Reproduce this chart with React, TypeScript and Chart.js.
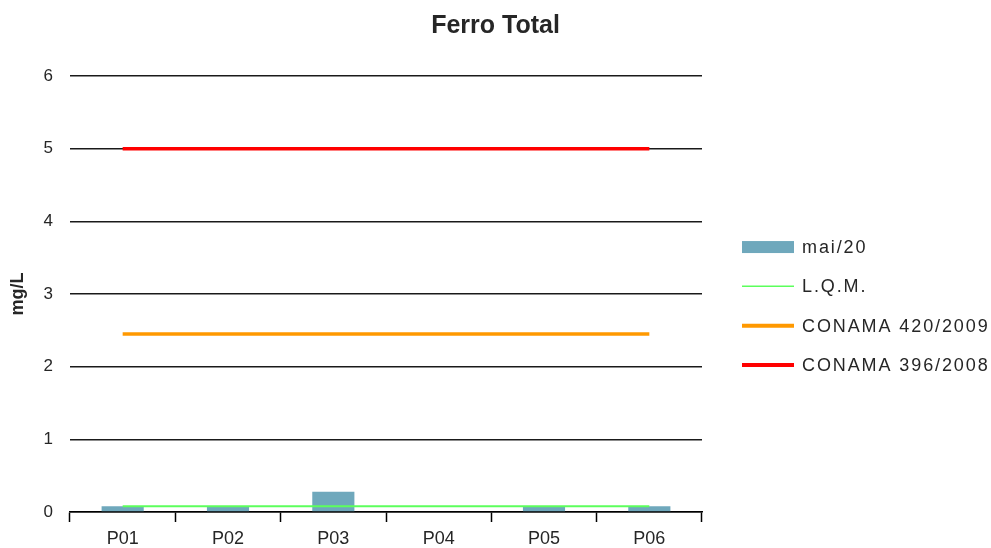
import React, { useEffect, useRef } from "react";
import { Chart, registerables } from "chart.js";

Chart.register(...registerables);

const categories = ["P01", "P02", "P03", "P04", "P05", "P06"];
const maiValues = [0.08, 0.08, 0.28, 0, 0.08, 0.08];
const lqmValues = [0.08, 0.08, 0.08, 0.08, 0.08, 0.08];
const conama420Values = [2.45, 2.45, 2.45, 2.45, 2.45, 2.45];
const conama396Values = [5, 5, 5, 5, 5, 5];
const yTicks = [0, 1, 2, 3, 4, 5, 6];

const FONT = "'Liberation Sans', Arial, sans-serif";
const TEXT = "#262626";

const legendPlugin = {
  id: "customLegend",
  afterDraw(chart: any) {
    const { ctx, chartArea } = chart;
    const x0 = chartArea.right + 40;
    const symW = 52;
    const step = 39.3;
    const center = (chartArea.top + chartArea.bottom) / 2 + 12;
    const startY = center - 1.5 * step;
    ctx.save();
    ctx.font = `18px ${FONT}`;
    ctx.textBaseline = "middle";
    ctx.textAlign = "left";
    chart.data.datasets.forEach((ds: any, i: number) => {
      const cy = startY + i * step;
      if (ds.type === "bar") {
        ctx.fillStyle = ds.backgroundColor;
        ctx.fillRect(x0, cy - 6, symW, 12);
      } else {
        ctx.strokeStyle = ds.borderColor;
        ctx.lineWidth = ds.legendWidth || ds.borderWidth;
        ctx.beginPath();
        ctx.moveTo(x0, cy);
        ctx.lineTo(x0 + symW, cy);
        ctx.stroke();
      }
      ctx.fillStyle = TEXT;
      try {
        (ctx as any).letterSpacing = "1.9px";
      } catch (e) {}
      ctx.fillText(ds.label, x0 + symW + 8, cy + 1);
      try {
        (ctx as any).letterSpacing = "0px";
      } catch (e) {}
    });
    ctx.restore();
  },
};

export default function App() {
  const ref = useRef<HTMLCanvasElement>(null);
  useEffect(() => {
    if (!ref.current) return;
    const chart = new Chart(ref.current, {
      type: "bar",
      data: {
        labels: categories,
        datasets: [
          {
            type: "bar",
            label: "mai/20",
            data: maiValues,
            backgroundColor: "#6FA8BC",
            borderWidth: 0,
            barPercentage: 0.4,
            categoryPercentage: 1,
            order: 1,
          } as any,
          {
            type: "line",
            label: "L.Q.M.",
            data: lqmValues,
            borderColor: "#5CFF5C",
            borderWidth: 2,
            legendWidth: 1.5,
            pointRadius: 0,
            fill: false,
            order: 0,
          },
          {
            type: "line",
            label: "CONAMA 420/2009",
            data: conama420Values,
            borderColor: "#FF9900",
            borderWidth: 3.5,
            legendWidth: 4,
            pointRadius: 0,
            fill: false,
            order: 0,
          },
          {
            type: "line",
            label: "CONAMA 396/2008",
            data: conama396Values,
            borderColor: "#FF0000",
            borderWidth: 3.5,
            legendWidth: 4,
            pointRadius: 0,
            fill: false,
            order: 0,
          },
        ],
      },
      options: {
        responsive: false,
        animation: false,
        layout: { padding: 0 },
        plugins: {
          legend: { display: false },
          tooltip: { enabled: false },
          title: {
            display: true,
            text: "Ferro Total",
            color: TEXT,
            font: { family: FONT, size: 25, weight: "bold" },
            padding: { top: 11, bottom: 35 },
          },
        },
        scales: {
          x: {
            offset: true,
            grid: {
              offset: true,
              drawOnChartArea: false,
              drawTicks: true,
              tickLength: 10,
              tickColor: "#000",
              tickWidth: 1.5,
            },
            border: { display: true, color: "#000", width: 1.5 },
            ticks: {
              color: TEXT,
              font: { family: FONT, size: 18 },
              padding: 6,
              maxRotation: 0,
            },
            afterFit: (scale: any) => {
              scale.height = 36;
            },
          },
          y: {
            min: 0,
            max: 6,
            afterBuildTicks: (scale: any) => {
              scale.ticks = yTicks.map((v) => ({ value: v }));
            },
            grid: {
              color: "#1a1a1a",
              lineWidth: 1.4,
              drawTicks: false,
            },
            border: { display: false },
            ticks: {
              color: TEXT,
              font: { family: FONT, size: 17 },
              padding: 17,
            },
            title: {
              display: true,
              text: "mg/L",
              color: TEXT,
              font: { family: FONT, size: 18, weight: "bold" },
              padding: { top: 7, bottom: 0 },
            },
            afterFit: (scale: any) => {
              scale.width = 70;
            },
          },
          legendSpace: {
            type: "linear",
            position: "right",
            display: true,
            grid: { display: false, drawTicks: false },
            border: { display: false },
            ticks: { display: false },
            afterFit: (scale: any) => {
              scale.width = 289;
            },
          },
        },
      } as any,
      plugins: [legendPlugin],
    });
    return () => chart.destroy();
  }, []);
  return (
    <div style={{ position: "fixed", left: 0, top: 0, width: 991, height: 548, background: "#fff" }}>
      <canvas ref={ref} width={991} height={548} style={{ display: "block" }} />
    </div>
  );
}
